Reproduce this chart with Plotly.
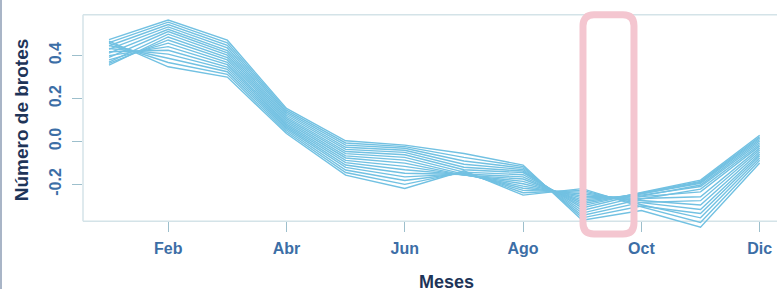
import plotly.graph_objects as go

# ---- datos ----
meses = [1, 2, 3, 4, 5, 6, 7, 8, 9, 10, 11, 12]
tick_meses = [2, 4, 6, 8, 10, 12]
tick_etiquetas = ["Feb", "Abr", "Jun", "Ago", "Oct", "Dic"]
y_ticks = [-0.2, 0.0, 0.2, 0.4]
y_etiquetas = ["-0.2", "0.0", "0.2", "0.4"]

# valor de cada una de las 16 curvas en cada mes
ene = [0.468, 0.458, 0.447, 0.433, 0.418, 0.400, 0.380, 0.364, 0.356, 0.370, 0.392, 0.412, 0.430, 0.446, 0.461, 0.475]
feb = [0.348, 0.368, 0.388, 0.407, 0.425, 0.442, 0.458, 0.473, 0.487, 0.500, 0.512, 0.523, 0.534, 0.545, 0.556, 0.566]
mar = [0.300, 0.313, 0.325, 0.336, 0.347, 0.358, 0.369, 0.380, 0.391, 0.402, 0.413, 0.424, 0.436, 0.448, 0.460, 0.472]
abr = [0.037, 0.045, 0.053, 0.061, 0.068, 0.075, 0.082, 0.090, 0.098, 0.106, 0.114, 0.122, 0.130, 0.138, 0.146, 0.154]
may = [-0.157, -0.145, -0.133, -0.121, -0.110, -0.099, -0.088, -0.077, -0.067, -0.057, -0.047, -0.037, -0.027, -0.017, -0.007, 0.003]
jun = [-0.219, -0.200, -0.182, -0.165, -0.148, -0.132, -0.116, -0.101, -0.087, -0.074, -0.062, -0.051, -0.041, -0.032, -0.024, -0.017]
jul = [-0.137, -0.142, -0.147, -0.151, -0.154, -0.156, -0.157, -0.157, -0.152, -0.143, -0.132, -0.120, -0.106, -0.091, -0.074, -0.056]
ago = [-0.250, -0.239, -0.228, -0.218, -0.208, -0.197, -0.186, -0.175, -0.165, -0.155, -0.145, -0.138, -0.131, -0.124, -0.117, -0.110]
sep = [-0.220, -0.228, -0.236, -0.245, -0.254, -0.263, -0.272, -0.281, -0.290, -0.300, -0.310, -0.322, -0.334, -0.345, -0.356, -0.367]
octu = [-0.305, -0.295, -0.285, -0.275, -0.266, -0.257, -0.250, -0.244, -0.240, -0.238, -0.244, -0.255, -0.268, -0.284, -0.301, -0.322]
nov = [-0.378, -0.356, -0.317, -0.296, -0.258, -0.235, -0.210, -0.195, -0.186, -0.180, -0.190, -0.203, -0.222, -0.276, -0.336, -0.400]
dic = [-0.088, -0.077, -0.058, -0.049, -0.031, -0.022, -0.006, 0.009, 0.022, 0.029, 0.016, 0.002, -0.014, -0.040, -0.067, -0.100]

por_mes = [ene, feb, mar, abr, may, jun, jul, ago, sep, octu, nov, dic]

# zona resaltada (meses) y marco
resalte_x = [9.013, 9.875]
resalte_y = [-0.4316, 0.59]
marco_y = [-0.372, 0.59]

# ---- geometría ----
W, H = 777, 289
ML, MR, MT, MB = 83, 0, 2, 51
XR = [0.56, 12.293]
YR = [-0.45, 0.65]
plot_w = W - ML - MR
plot_h = H - MT - MB
px_x = plot_w / (XR[1] - XR[0])
px_y = plot_h / (YR[1] - YR[0])

LINE = "#72c1e2"
FRAME = "#d4e3e8"
TICKC = "#9dbfcc"
TICKFONT = "#3c6ea6"
TITLEC = "#1e3458"
FAM = "Liberation Sans, Arial, sans-serif"

fig = go.Figure()
n = len(ene)
for k in range(n):
    fig.add_trace(go.Scatter(
        x=meses, y=[m[k] for m in por_mes], mode="lines",
        line=dict(color=LINE, width=1.4), hoverinfo="skip", showlegend=False))

shapes = []
# marco: inferior, superior, izquierda
for yv in marco_y:
    shapes.append(dict(type="line", xref="paper", yref="y", x0=0, x1=1, y0=yv, y1=yv,
                       line=dict(color=FRAME, width=1.5), layer="below"))
shapes.append(dict(type="line", xref="paper", yref="y", x0=0, x1=0, y0=marco_y[0], y1=marco_y[1],
                   line=dict(color=FRAME, width=1.5), layer="below"))
# línea en el borde izquierdo de la imagen
shapes.append(dict(type="line", xref="paper", yref="paper",
                   x0=-(ML - 1) / plot_w, x1=-(ML - 1) / plot_w,
                   y0=(plot_h + MB) / plot_h + 0.01, y1=-MB / plot_h - 0.01,
                   line=dict(color="#8d9db4", width=1.5)))
# rectángulo redondeado rosa
x0, x1 = resalte_x
y0, y1 = resalte_y
rx = 11 / px_x
ry = 11 / px_y
path = (f"M {x0+rx},{y1} L {x1-rx},{y1} Q {x1},{y1} {x1},{y1-ry} "
        f"L {x1},{y0+ry} Q {x1},{y0} {x1-rx},{y0} L {x0+rx},{y0} "
        f"Q {x0},{y0} {x0},{y0+ry} L {x0},{y1-ry} Q {x0},{y1} {x0+rx},{y1} Z")
shapes.append(dict(type="path", xref="x", yref="y", path=path,
                   line=dict(color="#f4c6d0", width=7), fillcolor="rgba(0,0,0,0)", layer="above"))

# título del eje x como anotación (centrado en el área completa del gráfico original)
titulo_x_px = (446, 281.5)
annotations = [dict(text="Meses", xref="paper", yref="paper", showarrow=False,
                    x=(titulo_x_px[0] - ML) / plot_w,
                    y=(MT + plot_h - titulo_x_px[1]) / plot_h,
                    xanchor="center", yanchor="middle",
                    font=dict(family=FAM, size=18, color=TITLEC, weight="bold"))]

fig.update_layout(
    width=W, height=H,
    margin=dict(l=ML, r=MR, t=MT, b=MB, pad=0, autoexpand=False),
    paper_bgcolor="white", plot_bgcolor="white",
    shapes=shapes, annotations=annotations,
    xaxis=dict(range=XR, tickvals=tick_meses, ticktext=tick_etiquetas, automargin=False,
               ticks="outside", ticklen=10, tickwidth=1.3, tickcolor=TICKC,
               showline=False, showgrid=False, zeroline=False,
               ticklabelstandoff=3,
               anchor="free", position=(marco_y[0] - YR[0]) / (YR[1] - YR[0]),
               tickfont=dict(family=FAM, size=16, color=TICKFONT, weight="bold")),
    yaxis=dict(range=YR, tickvals=y_ticks, ticktext=y_etiquetas, tickangle=-90, automargin=False,
               ticks="outside", ticklen=10, tickwidth=1.3, tickcolor=TICKC,
               showline=False, showgrid=False, zeroline=False,
               ticklabelstandoff=5,
               tickfont=dict(family=FAM, size=16, color=TICKFONT, weight="bold"),
               title=dict(text="Número de brotes", standoff=12,
                          font=dict(family=FAM, size=19, color=TITLEC, weight="bold"))),
)

fig.write_html("out.html", config={"displayModeBar": False},
               post_script="document.body.style.margin='0px';")
